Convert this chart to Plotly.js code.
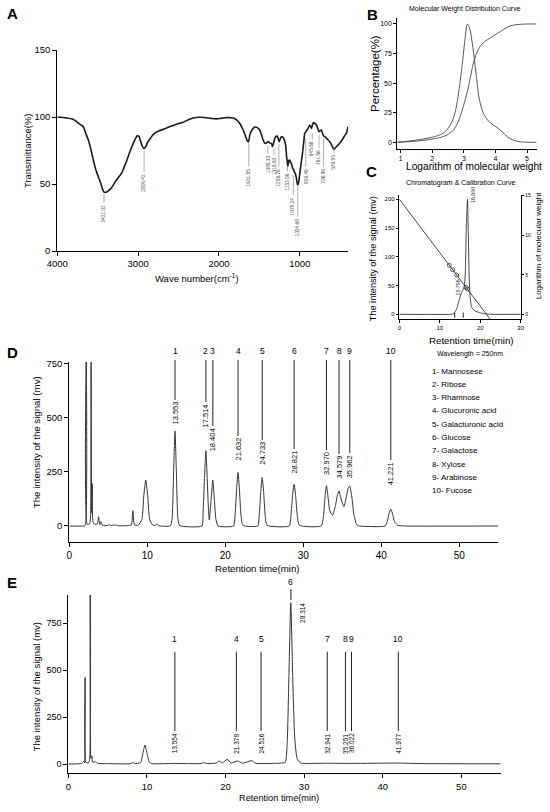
<!DOCTYPE html>
<html>
<head>
<meta charset="utf-8">
<script src="https://cdn.plot.ly/plotly-3.0.1.min.js"></script>
<style>html,body{margin:0;padding:0;background:#fff;}#chart{width:550px;height:812px;}</style>
</head>
<body>
<div id="chart"></div>
<script>
// ---------------- Panel A : FT-IR spectrum ----------------
const irWavenumber = [4000,3900,3800,3760,3720,3680,3650,3617,3585,3555,3520,3490,3460,3440,3422,3400,3380,3349,3320,3290,3267,3230,3200,3184,3150,3120,3102,3070,3040,3011,2990,2970,2950,2926,2905,2880,2850,2820,2780,2731,2680,2620,2550,2480,2442,2380,2319,2250,2180,2100,2031,1980,1930,1866,1820,1783,1740,1701,1670,1651,1635,1618,1600,1577,1556,1536,1515,1495,1475,1454,1435,1421,1405,1392,1370,1351,1338,1325,1309,1295,1281,1268,1256,1240,1227,1210,1198,1185,1173,1163,1157,1150,1145,1135,1124,1115,1104,1090,1075,1062,1050,1040,1030,1024,1012,1000,985,967,950,939,926,910,895,877,866,856,846,835,827,810,794,778,761,745,733,720,707,691,660,630,605,590,577,565,545,527,500,465,440,424,403];
const irTransmittance = [100,99.5,98.2,96.5,94.5,93,88,83,76,68,60,55,50,46,44,43.8,44.3,46,48,51,53,56,58.5,61,66,71,74,79,83,86,85.5,82,78.5,76.5,78,81.5,84,86.5,88.5,90,91,92.5,94,95.5,96,98,99.3,99.8,99.6,99,98.6,99,99.4,99.5,99.3,97.8,95,90.3,85.5,82.3,81.5,86.6,89.5,91.5,92.5,92.3,91.5,90.3,87,82.8,80.5,80.3,81,81.6,80.5,80.3,77.9,80.5,84,85.5,85.8,84,81.6,84,85.3,85,84,81.5,77.9,70,67.9,63.5,64.2,67.5,67.9,66,65.4,62,60.4,58.5,56.7,53.5,50,49.3,52,58,65,72.9,82,87.8,89,90.3,92,94,93,91.5,93.5,95.5,95.8,95,94,91.5,89,90,90.3,88,86,85.3,83.5,81.6,79,77,75.8,76.5,78,79,81,84,86.5,87.8,92.8];
const irPeakWavenumber = [3422.02,2926.42,1631.85,1395.30,1318.83,1258.76,1153.06,1079.24,1024.69,926.48,845.88,761.56,706.98,576.93];
const irPeakLabel = ['3422.02','2926.42','1631.85','1395.30','1318.83','1258.76','1153.06','1079.24','1024.69','926.48','845.88','761.56','706.98','576.93'];
const irTickVals = [4000,3000,2000,1000];
const irYTicks = [0,50,100,150];

// ---------------- Panel B : molecular weight distribution ----------------
const mwLogMW = [0.9,1.4,1.8,2.1,2.3,2.45,2.6,2.72,2.84,2.95,3.04,3.11,3.18,3.25,3.32,3.4,3.48,3.57,3.66,3.78,3.93,4.05,4.15,4.28,4.4,4.55,4.7,4.88,5.3];
const mwDistribution = [0,1.5,3.2,5,7,10,16,25,43,66,88,100,97,87,73,55,38,28,22.5,18,14.6,12.5,10.4,7,4.2,2,0.8,0.2,0];
const mwCumLogMW = [0.9,1.4,1.82,2.1,2.35,2.55,2.67,2.8,2.98,3.1,3.2,3.3,3.4,3.51,3.65,3.83,4.0,4.15,4.3,4.46,4.62,4.78,5.0,5.3];
const mwCumulative = [0,0.8,2,3.2,4.8,7.5,10.4,16,30,42,54,66.8,75,80.8,85,88,91,93.5,96,98.3,99.3,99.7,100,100];
const mwXTicks = [1,2,3,4,5];
const mwYTicks = [0,25,50,75,100];

// ---------------- Panel C : chromatogram & calibration ----------------
const gpcTime = [0,12.5,13.3,13.8,14.2,14.6,15.0,15.4,15.8,16.0,16.3,16.55,16.85,17.05,17.25,17.5,17.9,18.7,19.8,21,23,30];
const gpcSignal = [0,0,1,4,10,20,30,38,44,47,70,150,200,140,70,30,12,6,3,1,0,0];
const calibTime = [0,22.6];
const calibLogMW = [14.56,-0.72];
const stdTime = [12.37,13.19,14.18,16.49,16.82];
const stdLogMW = [6.2,5.64,4.97,3.41,3.19];
const gpcPeakTime = [16.850,15.796];
const gpcPeakLabel = ['16.850','15.796'];
const gpcMarkTime = [13.7,15.8];
const gpcXTicks = [0,10,20,30];
const gpcLeftTicks = [0,50,100,150,200];
const gpcRightTicks = [0,5,10,15];

// ---------------- Panel D : standard monosaccharides ----------------
const stdChromTime = [
  0,1.9,2.08,2.18,2.28,2.6,2.72,2.79,2.86,2.95,3.05,3.3,3.6,3.75,3.9,4.05,4.25,5.0,5.1,5.3,5.8,6.3,7.5,7.95,8.15,8.35,8.8,
  9.3,9.55,9.8,10.05,10.3,10.7,11.05,11.2,11.4,
  12.95,13.19,13.37,13.55,13.73,13.91,14.15,
  17.0,17.15,17.33,17.51,17.68,17.85,17.95,18.2,18.4,18.6,18.8,19.1,
  21.05,21.27,21.45,21.63,21.81,21.99,22.25,
  24.15,24.37,24.55,24.73,24.91,25.09,25.35,
  28.2,28.42,28.62,28.82,29.02,29.22,29.5,
  32.3,32.6,32.8,32.97,33.15,33.4,33.75,34.1,34.35,34.58,34.8,35.2,35.55,35.75,35.96,36.2,36.5,36.85,37.2,
  40.5,40.8,41.0,41.22,41.45,41.7,42.1,43,55];
const stdChromSignal = [
  0,0,5,900,8,10,40,900,60,197,15,8,10,43,6,20,3,3,8,2,5,1,2,5,71,5,3,
  30,140,213,140,30,4,3,10,2,
  0,40,250,440,250,40,2,
  0,60,220,349,220,70,28,130,213,120,30,0,
  0,60,170,248,170,60,3,
  0,60,160,224,160,60,3,
  0,50,140,193,140,50,3,
  0,50,140,187,140,70,50,90,140,162,130,90,140,175,185,140,50,5,0,
  0,25,60,77,55,20,3,0,0];
const monoNumbers = ['1','2','3','4','5','6','7','8','9','10'];
const monoNames = ['Mannosese','Ribose','Rhamnose','Glucuronic acid','Galacturonic acid','Glucose','Galactose','Xylose','Arabinose','Fucose'];
const stdPeakTime = [13.553,17.514,18.404,21.632,24.733,28.821,32.970,34.579,35.962,41.221];
const stdPeakLabel = ['13.553','17.514','18.404','21.632','24.733','28.821','32.970','34.579','35.962','41.221'];
const chromXTicks = [0,10,20,30,40,50];
const chromYTicks = [0,250,500,750];

// ---------------- Panel E : sample ----------------
const sampleTime = [
  0,1.7,2.0,2.08,2.14,2.22,2.5,2.7,2.78,2.88,3.0,3.1,3.5,3.7,5.0,8.0,8.2,8.4,
  9.2,9.5,9.75,10.0,10.3,10.6,
  13.5,15.0,17.0,17.2,17.5,18.8,19.2,19.6,20.2,20.7,21.5,22.2,23.3,23.8,25.0,27.0,
  27.6,27.85,28.05,28.3,28.55,28.8,29.1,29.5,
  30,33,36,42,45,55];
const sampleSignal = [
  0,3,15,8,462,10,5,20,1000,30,43,10,12,4,2,2,9,2,
  8,60,101,60,10,2,
  3,2,3,9,3,5,16,6,25,5,16,4,18,4,2,5,
  8,120,450,860,450,140,30,6,
  3,4,3,5,2,1];
const samplePeakNo = ['1','4','5','6','7','8','9','10'];
const samplePeakTime = [13.554,21.378,24.516,28.314,32.941,35.251,36.022,41.977];
const samplePeakLabel = ['13.554','21.378','24.516','28.314','32.941','35.251','36.022','41.977'];

// ---------------- layout helpers ----------------
const W = 550, H = 812;
const FONT = 'Liberation Sans, Arial, Helvetica, sans-serif';
const fx = p => p / W;
const fy = p => 1 - p / H;

function ax(extra) {
  return Object.assign({
    showline: true, linecolor: '#000', linewidth: 1, mirror: false,
    ticks: 'outside', ticklen: 4, tickwidth: 1, tickcolor: '#000',
    showgrid: false, zeroline: false, fixedrange: true,
    tickfont: { family: FONT, size: 10, color: '#000' }
  }, extra);
}

const traces = [
  { x: irWavenumber, y: irTransmittance, xaxis: 'x', yaxis: 'y', mode: 'lines',
    line: { color: '#1a1a1a', width: 1.6, shape: 'spline', smoothing: 0.6 }, hoverinfo: 'skip' },
  { x: mwLogMW, y: mwDistribution, xaxis: 'x2', yaxis: 'y2', mode: 'lines',
    line: { color: '#444', width: 0.9, shape: 'spline', smoothing: 0.8 }, hoverinfo: 'skip' },
  { x: mwCumLogMW, y: mwCumulative, xaxis: 'x2', yaxis: 'y2', mode: 'lines',
    line: { color: '#444', width: 0.9, shape: 'spline', smoothing: 0.8 }, hoverinfo: 'skip' },
  { x: gpcTime, y: gpcSignal, xaxis: 'x3', yaxis: 'y3', mode: 'lines',
    line: { color: '#333', width: 0.9, shape: 'spline', smoothing: 0.5 }, hoverinfo: 'skip' },
  { x: calibTime, y: calibLogMW, xaxis: 'x3', yaxis: 'y4', mode: 'lines',
    line: { color: '#333', width: 0.9 }, hoverinfo: 'skip', cliponaxis: false },
  { x: stdTime, y: stdLogMW, xaxis: 'x3', yaxis: 'y4', mode: 'markers',
    marker: { symbol: 'circle-open', size: 4, color: '#333', line: { width: 0.8 } }, hoverinfo: 'skip' },
  { x: stdChromTime, y: stdChromSignal, xaxis: 'x4', yaxis: 'y5', mode: 'lines',
    line: { color: '#333', width: 1, shape: 'spline', smoothing: 0.5 }, hoverinfo: 'skip' },
  { x: sampleTime, y: sampleSignal, xaxis: 'x5', yaxis: 'y6', mode: 'lines',
    line: { color: '#333', width: 1, shape: 'spline', smoothing: 0.5 }, hoverinfo: 'skip' }
];

const shapes = [];
const annotations = [];
function txt(text, x, y, size, extra) {
  annotations.push(Object.assign({
    text: text, x: x, y: y, xref: 'paper', yref: 'paper', showarrow: false,
    font: { family: FONT, size: size, color: '#000' }, xanchor: 'center', yanchor: 'middle', borderpad: 0
  }, extra || {}));
}

// Panel A peak labels
const irLineTop =    [42.5,75.4,80.3,78.4,76.6,79.9,62.9,56.7,49.3,84.1,87.8,86.6,84.1,76.6];
const irLineBottom = [36.1,59.2,62.9,72.9,71.6,62.9,59.2,41.8,25.6,62.9,83.3,76.6,62.9,72.9];
irPeakWavenumber.forEach((wn, i) => {
  shapes.push({ type: 'line', xref: 'x', yref: 'y', x0: wn, x1: wn, y0: irLineTop[i], y1: irLineBottom[i],
    line: { color: '#9a9a9a', width: 0.8 } });
  annotations.push({ text: irPeakLabel[i], x: wn, y: irLineBottom[i], xref: 'x', yref: 'y', showarrow: false,
    textangle: -90, yanchor: 'top', xanchor: 'center', borderpad: 0, yshift: -1,
    font: { family: FONT, size: 4.8, color: '#555' } });
});

// Panel C peak labels and marks
txt(gpcPeakLabel[0], gpcPeakTime[0], fy(194.5), 5.3, { xref: 'x3', textangle: -90, xshift: 5, font: { family: FONT, size: 5.3, color: '#333' } });
txt(gpcPeakLabel[1], gpcPeakTime[1], fy(287.3), 5.3, { xref: 'x3', textangle: -90, xshift: -5, font: { family: FONT, size: 5.3, color: '#333' } });
gpcMarkTime.forEach(t => {
  shapes.push({ type: 'line', xref: 'x3', yref: 'y3', x0: t, x1: t, y0: -6, y1: 3, line: { color: '#222', width: 1 } });
});

// Panel D markers
const dBottoms = [400,402,426,436,440,449,450,454,453,460];
stdPeakTime.forEach((t, i) => {
  shapes.push({ type: 'line', xref: 'x4', yref: 'paper', x0: t, x1: t, y0: fy(360), y1: fy(dBottoms[i]),
    line: { color: '#222', width: 1 } });
  txt(monoNumbers[i], t, fy(350.7), 8.5, { xref: 'x4' });
  txt(stdPeakLabel[i], t, fy(dBottoms[i] + 1), 7.5, { xref: 'x4', textangle: -90, yanchor: 'top' });
});
monoNames.forEach((name, i) => {
  txt(monoNumbers[i] + '- ' + name, fx(431), fy(371 + 13.33 * i), 8, { xanchor: 'left' });
});

// Panel E markers
samplePeakTime.forEach((t, i) => {
  if (samplePeakNo[i] === '6') {
    shapes.push({ type: 'line', xref: 'x5', yref: 'paper', x0: t, x1: t, y0: fy(589), y1: fy(600), line: { color: '#222', width: 1 } });
    txt(samplePeakNo[i], t, fy(582), 8.5, { xref: 'x5' });
    txt(samplePeakLabel[i], t, fy(613), 6.5, { xref: 'x5', textangle: -90, xshift: 11 });
  } else {
    shapes.push({ type: 'line', xref: 'x5', yref: 'paper', x0: t, x1: t, y0: fy(651.7), y1: fy(731), line: { color: '#222', width: 1 } });
    txt(samplePeakNo[i], t, fy(639.3), 8.5, { xref: 'x5' });
    txt(samplePeakLabel[i], t, fy(732.5), 6.5, { xref: 'x5', textangle: -90, yanchor: 'top' });
  }
});

// Titles and panel letters
txt('Transmittance(%)', fx(28.3), fy(150.8), 9.5, { textangle: -90 });
txt('Wave number(cm<sup>-1</sup>)', fx(196.7), fy(278), 9.5);
txt('Molecular Weight Distribution Curve', fx(465), fy(9.3), 7);
txt('Percentage(%)', fx(375), fy(74), 11.5, { textangle: -90 });
txt('Logarithm of molecular weight', fx(474), fy(166), 10.2);
txt('Chromatogram &amp; Calibration Curve', fx(460.3), fy(183), 7);
txt('The intensity of the signal (mv)', fx(373.3), fy(259), 9.2, { textangle: -90 });
txt('Logarithm of molecular weight', fx(538.3), fy(246), 8, { textangle: -90 });
txt('Retention time(min)', fx(471.7), fy(340), 9.7);
txt('Wavelength = 250nm', fx(470), fy(354), 7);
txt('The intensity of the signal (mv)', fx(36.7), fy(442.5), 9.7, { textangle: -90 });
txt('Retention time(min)', fx(257), fy(568.3), 9.7);
txt('The intensity of the signal (mv)', fx(36.7), fy(686.7), 9.5, { textangle: -90 });
txt('Retention time(min)', fx(279), fy(798.3), 9.2);
[['A', 12, 13], ['B', 372, 15], ['C', 371, 172], ['D', 12, 352], ['E', 12, 582]].forEach(l => {
  txt('<b>' + l[0] + '</b>', fx(l[1]), fy(l[2]), 15);
});

const layout = {
  width: W, height: H, margin: { l: 0, r: 0, t: 0, b: 0 },
  paper_bgcolor: '#fff', plot_bgcolor: 'rgba(0,0,0,0)', showlegend: false,
  font: { family: FONT, color: '#000' },
  xaxis: ax({ domain: [fx(57.3), fx(348.3)], range: [4000, 400], tickvals: irTickVals, anchor: 'y', tickfont: { family: FONT, size: 9.5 } }),
  yaxis: ax({ domain: [fy(251), fy(50)], range: [0, 150], tickvals: irYTicks, anchor: 'x', tickfont: { family: FONT, size: 9.5 } }),
  xaxis2: ax({ domain: [fx(397.3), fx(536.7)], range: [0.892, 5.307], tickvals: mwXTicks, anchor: 'y2', ticklen: 3, tickfont: { family: FONT, size: 7 } }),
  yaxis2: ax({ domain: [fy(149), fy(18.3)], range: [-5.66, 104.8], tickvals: mwYTicks, anchor: 'x2', ticklen: 3, tickfont: { family: FONT, size: 7 } }),
  xaxis3: ax({ domain: [fx(399.3), fx(520.7)], range: [0, 30], tickvals: gpcXTicks, anchor: 'y3', ticklen: 2.5, tickfont: { family: FONT, size: 6 } }),
  yaxis3: ax({ domain: [fy(319.3), fy(195)], range: [-8.7, 207.5], tickvals: gpcLeftTicks, anchor: 'x3', ticklen: 2.5, tickfont: { family: FONT, size: 6 } }),
  yaxis4: ax({ overlaying: 'y3', side: 'right', anchor: 'x3', range: [-0.63, 15.09], tickvals: gpcRightTicks, ticklen: 2.5, tickfont: { family: FONT, size: 5 } }),
  xaxis4: ax({ domain: [fx(69.3), fx(498.3)], range: [0, 55], tickvals: chromXTicks, anchor: 'y5', tickfont: { family: FONT, size: 10 } }),
  yaxis5: ax({ domain: [fy(541.7), fy(362)], range: [-72.7, 759], tickvals: chromYTicks, anchor: 'x4', tickfont: { family: FONT, size: 9.5 } }),
  xaxis5: ax({ domain: [fx(68.3), fx(500.7)], range: [0, 55], tickvals: chromXTicks, anchor: 'y6', tickfont: { family: FONT, size: 9.5 } }),
  yaxis6: ax({ domain: [fy(773.3), fy(595)], range: [-49.6, 901], tickvals: chromYTicks, anchor: 'x5', tickfont: { family: FONT, size: 9 } }),
  shapes: shapes,
  annotations: annotations
};

Plotly.newPlot('chart', traces, layout, { displayModeBar: false, staticPlot: true });
</script>
</body>
</html>
